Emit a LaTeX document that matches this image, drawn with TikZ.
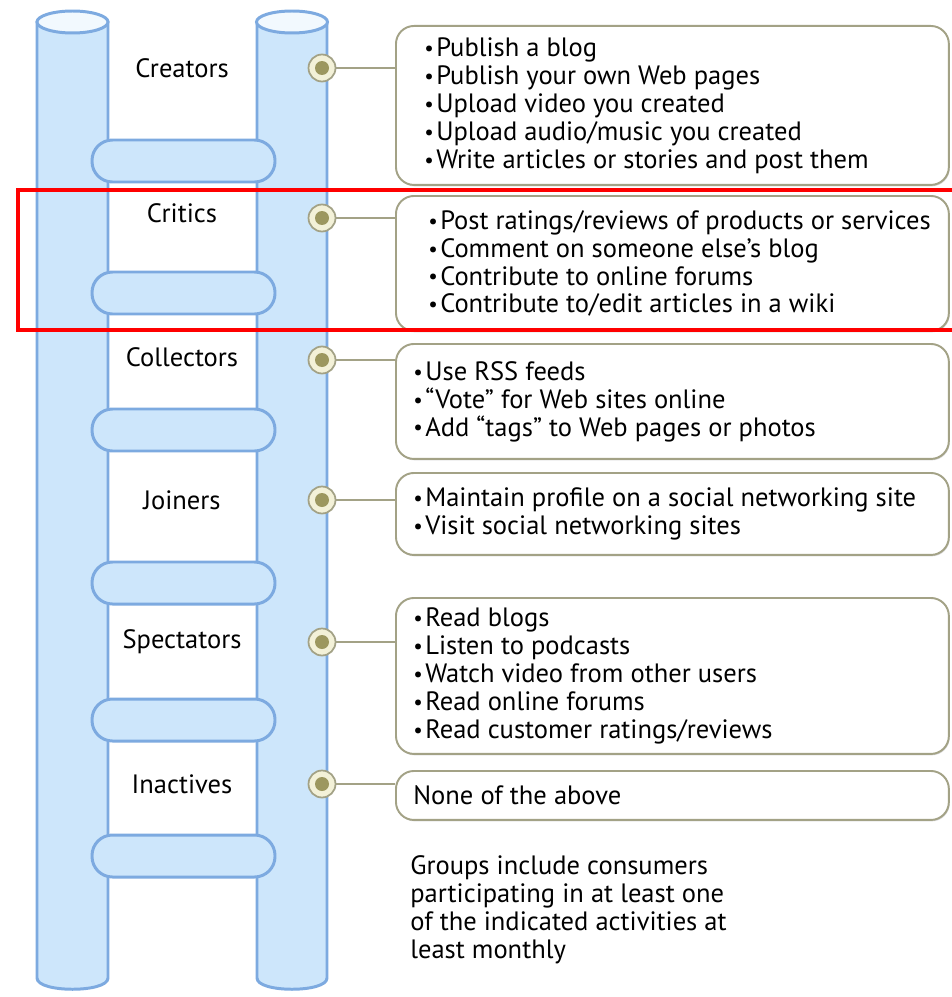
\documentclass[tikz,border=0pt]{standalone}
\usepackage{fontspec}
\setmainfont{PT Sans}
\usepackage{tikz}
\usetikzlibrary{positioning,shadows}
\definecolor{railBlue}{HTML}{CDE6FB}
\definecolor{railEdge}{HTML}{7DAAE0}
\definecolor{boxEdge}{HTML}{A3A286}
\definecolor{dotFill}{HTML}{F3F1D8}
\definecolor{dotCore}{HTML}{9C975F}
\newcommand\bul{\makebox[6.8pt][l]{\fontsize{12}{12}\selectfont\raisebox{0.6pt}{•}}}

\begin{document}
\begin{tikzpicture}[
    x=0.02cm, y=-0.02cm,
    font=\fontsize{15.1}{15.9}\selectfont,
    rail/.style={draw=railEdge, fill=railBlue, line width=1.7pt},
    rung/.style={draw=railEdge, fill=railBlue, line width=1.7pt, rounded corners=0.41cm},
    level/.style={inner sep=0pt},
    dot/.style={circle, draw=boxEdge, fill=dotFill, line width=1pt, minimum size=0.54cm, inner sep=0pt,
                path picture={\fill[dotCore] (path picture bounding box.center) circle (0.14cm);}},
    box/.style={draw=boxEdge, fill=white, line width=1.1pt, rounded corners=0.36cm, anchor=north west,
                minimum height=#1, minimum width=11.06cm, inner sep=0pt,
                drop shadow={shadow xshift=0.5pt, shadow yshift=-0.8pt, fill=black!30, opacity=0.5}},
    list/.style={inner sep=0pt, align=left},
    link/.style={draw=boxEdge, line width=1.2pt}
]
    \useasboundingbox[fill=white] (0,0) rectangle (951,997);

    % Escalera: largueros y peldaños
    \foreach \xl/\xr in {37/108, 257/327} {
        \path[rail] (\xl,22) -- (\xl,978) .. controls (\xl,993) and (\xr,993) .. (\xr,978) -- (\xr,22) -- cycle;
        \path[rail, fill=railBlue!25] ({(\xl+\xr)/2},22) ellipse [x radius=0.71cm, y radius=0.22cm];
    }
    \foreach \y in {161,293,430,583,720,856}
        \path[rung] (92,\y-21) rectangle (275,\y+21);

    % Niveles
    \foreach \name/\y/\txt in {creators/68/Creators, critics/213/Critics, collectors/357/Collectors,
                               joiners/500/Joiners, spectators/642/Spectators, inactives/784/Inactives}
        \node[level] (\name) at (182,\y) {\txt};

    % Puntos sobre el larguero derecho
    \foreach \i/\y in {1/68, 2/218, 3/360, 4/500, 5/642, 6/784}
        \node[dot] (d\i) at (322,\y) {};

    % Cajas de actividades
    \node[box=3.18cm] (b1) at (395,25) {};
    \node[box=2.7cm]  (b2) at (395,195) {};
    \node[box=2.3cm]  (b3) at (395,343) {};
    \node[box=1.64cm] (b4) at (395,472) {};
    \node[box=3.12cm] (b5) at (395,597) {};
    \node[box=0.98cm] (b6) at (395,770) {};

    \node[list, right=0.58cm of b1.west] (t1)
        {\bul Publish a blog\\\bul Publish your own Web pages\\\bul Upload video you created\\
         \bul Upload audio/music you created\\\bul Write articles or stories and post them};
    \node[list, right=0.66cm of b2.west] (t2)
        {\bul Post ratings/reviews of products or services\\\bul Comment on someone else’s blog\\
         \bul Contribute to online forums\\\bul Contribute to/edit articles in a wiki};
    \node[list, right=0.36cm of b3.west] (t3)
        {\bul Use RSS feeds\\\bul “Vote” for Web sites online\\\bul Add “tags” to Web pages or photos};
    \node[list, right=0.36cm of b4.west] (t4)
        {\bul Maintain profile on a social networking site\\\bul Visit social networking sites};
    \node[list, right=0.36cm of b5.west] (t5)
        {\bul Read blogs\\\bul Listen to podcasts\\\bul Watch video from other users\\
         \bul Read online forums\\\bul Read customer ratings/reviews};
    \node[list, right=0.36cm of b6.west] (t6) {None of the above};

    \foreach \i in {1,...,6}
        \draw[link] (d\i) -- (d\i -| b\i.west);

    \node[list, anchor=west] (note) at (410,910)
        {Groups include consumers\\participating in at least one\\of the indicated activities at\\least monthly};

    % Marco rojo alrededor de Critics
    \draw[red, line width=2.2pt] (18,190) rectangle (980,330);
\end{tikzpicture}
\end{document}
